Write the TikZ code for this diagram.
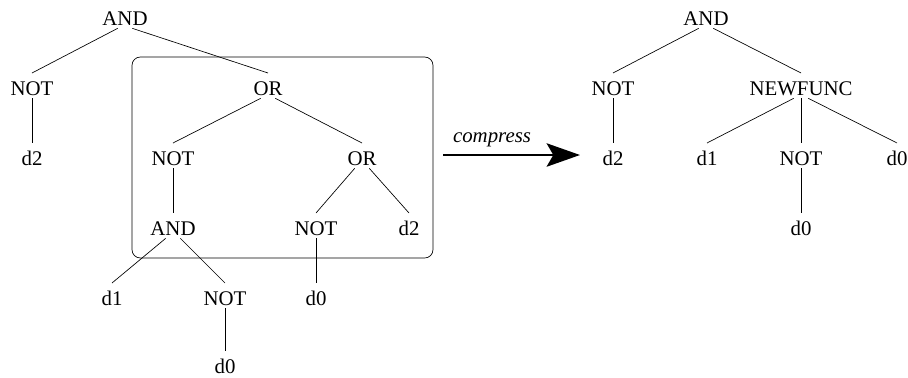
\documentclass[tikz,border=0pt]{standalone}
\usepackage{fontspec}
\setmainfont{Liberation Serif}
\usetikzlibrary{arrows.meta}

\begin{document}
\begin{tikzpicture}[x=0.6pt, y=-0.6pt]
\tikzset{op/.style ={anchor=base, inner sep=0pt, text height=13pt, text depth=1.8pt, font=\fontsize{12.5}{15}\selectfont}}
\tikzset{tag/.style ={op, font=\fontsize{12.5}{15}\selectfont\itshape}}
\useasboundingbox (0,0) rectangle (908,377);
% tree before compression
\node[op] (and1) at (125,25) {AND};
\node[op] (not1) at (32,95) {NOT};
\node[op] (d2a) at (32,165) {d2};
\node[op] (or1) at (268,95) {OR};
\node[op] (not2) at (173,165) {NOT};
\node[op] (or2) at (362,165) {OR};
\node[op] (and2) at (173,235) {AND};
\node[op] (not3) at (316,235) {NOT};
\node[op] (d2b) at (409,235) {d2};
\node[op] (d1a) at (112,305) {d1};
\node[op] (not4) at (225,305) {NOT};
\node[op] (d0a) at (316,305) {d0};
\node[op] (d0b) at (225,373) {d0};
\draw (and1.240) -- (not1.north);
\draw (and1.300) -- (or1.north);
\draw (not1.south) -- (d2a.north);
\draw (or1.240) -- (not2.north);
\draw (or1.300) -- (or2.north);
\draw (not2.south) -- (and2.north);
\draw (or2.240) -- (not3.north);
\draw (or2.300) -- (d2b.north);
\draw (and2.240) -- (d1a.north);
\draw (and2.300) -- (not4.north);
\draw (not3.south) -- (d0a.north);
\draw (not4.south) -- (d0b.north);
\draw[rounded corners=5pt] (132,57) rectangle (433,258);
% compress step
\coordinate (src) at (443,155);
\coordinate (dst) at (580,155);
\draw[line width=1.6pt, -{Stealth[length=20pt, width=14pt, inset=4pt]}] (src) -- (dst);
\node[tag] (lbl) at (492,142) {compress};
% tree after compression
\node[op] (and3) at (706,25) {AND};
\node[op] (not5) at (613,95) {NOT};
\node[op] (nf) at (801,95) {NEWFUNC};
\node[op] (d2c) at (613,165) {d2};
\node[op] (d1b) at (707,165) {d1};
\node[op] (not6) at (801,165) {NOT};
\node[op] (d0c) at (897,165) {d0};
\node[op] (d0d) at (801,235) {d0};
\draw (and3.240) -- (not5.north);
\draw (and3.300) -- (nf.north);
\draw (not5.south) -- (d2c.north);
\draw (nf.240) -- (d1b.north);
\draw (nf.south) -- (not6.north);
\draw (nf.300) -- (d0c.north);
\draw (not6.south) -- (d0d.north);
\end{tikzpicture}
\end{document}
